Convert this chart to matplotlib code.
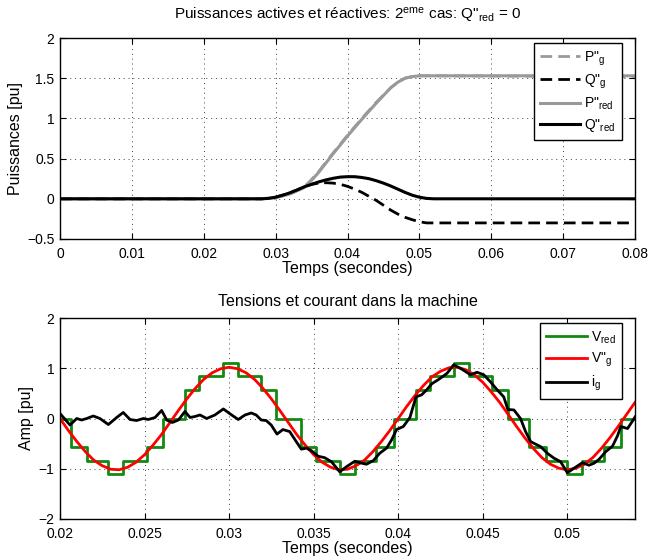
import numpy as np
import matplotlib
matplotlib.use("Agg")
import matplotlib.pyplot as plt

plt.rcParams['font.family'] = ['Liberation Sans', 'DejaVu Sans']
plt.rcParams['mathtext.default'] = 'regular'
plt.rcParams['axes.unicode_minus'] = True

# ---------------- Puissances actives et réactives ----------------
t_p = [0.000, 0.028, 0.030, 0.032, 0.034, 0.035, 0.036, 0.038, 0.040, 0.042,
       0.044, 0.046, 0.047, 0.048, 0.049, 0.050, 0.052, 0.080]
p_red = [0.00, 0.00, 0.015, 0.06, 0.14, 0.23, 0.33, 0.56, 0.78, 0.99,
         1.19, 1.38, 1.45, 1.50, 1.52, 1.53, 1.53, 1.53]
p_g = [0.00, 0.00, 0.015, 0.06, 0.15, 0.24, 0.34, 0.57, 0.79, 1.00,
       1.20, 1.38, 1.45, 1.50, 1.52, 1.53, 1.53, 1.52]

t_q = [0.000, 0.028, 0.029, 0.030, 0.031, 0.032, 0.033, 0.034, 0.035, 0.036,
       0.037, 0.038, 0.039, 0.040, 0.041, 0.042, 0.043, 0.044, 0.045, 0.046,
       0.047, 0.048, 0.049, 0.050, 0.051, 0.052, 0.080]
q_red = [0.00, 0.00, 0.005, 0.02, 0.045, 0.075, 0.11, 0.15, 0.18, 0.21,
         0.235, 0.255, 0.27, 0.275, 0.275, 0.265, 0.25, 0.225, 0.195, 0.16,
         0.12, 0.08, 0.045, 0.02, 0.005, 0.00, 0.00]
q_g = [0.00, 0.00, 0.005, 0.02, 0.045, 0.075, 0.11, 0.15, 0.18, 0.195,
       0.20, 0.195, 0.18, 0.155, 0.12, 0.08, 0.03, -0.02, -0.08, -0.14,
       -0.19, -0.23, -0.26, -0.285, -0.30, -0.30, -0.30]

top_xticks = [0, 0.01, 0.02, 0.03, 0.04, 0.05, 0.06, 0.07, 0.08]
top_xlabels = ['0', '0.01', '0.02', '0.03', '0.04', '0.05', '0.06', '0.07', '0.08']
top_yticks = [-0.5, 0, 0.5, 1, 1.5, 2]
top_ylabels = ['\u22120.5', '0', '0.5', '1', '1.5', '2']

# ---------------- Tensions et courant ----------------
t_v = np.linspace(0.02, 0.054, 69)  # sampling grid, 0.5 ms
v_g = [0.00, -0.24, -0.46, -0.66, -0.83, -0.94, -1.01, -1.02, -0.97, -0.87,
       -0.72, -0.53, -0.32, -0.08, 0.16, 0.39, 0.60, 0.78, 0.91, 0.99,
       1.02, 0.99, 0.91, 0.78, 0.60, 0.39, 0.16, -0.08, -0.32, -0.53,
       -0.72, -0.87, -0.97, -1.02, -1.01, -0.94, -0.83, -0.66, -0.46, -0.24,
       0.00, 0.24, 0.46, 0.66, 0.83, 0.94, 1.01, 1.02, 0.97, 0.87,
       0.72, 0.53, 0.32, 0.08, -0.16, -0.39, -0.60, -0.78, -0.91, -0.99,
       -1.02, -0.99, -0.91, -0.78, -0.60, -0.39, -0.16, 0.08, 0.32]

t_vred = [0.02000, 0.02065, 0.02158, 0.02286, 0.02374, 0.02512, 0.02611,
          0.02739, 0.02822, 0.02966, 0.03050, 0.03190, 0.03279,
          0.03427, 0.03512, 0.03654, 0.03743, 0.03871, 0.03974,
          0.04105, 0.04190, 0.04328, 0.04417, 0.04555, 0.04648,
          0.04773, 0.04871, 0.05000, 0.05089, 0.05217, 0.05316, 0.05400]
v_red = [0.00, -0.56, -0.85, -1.10, -0.85, -0.56, 0.00,
         0.56, 0.85, 1.10, 0.85, 0.56, 0.00,
         -0.56, -0.85, -1.10, -0.85, -0.56, 0.00,
         0.56, 0.85, 1.10, 0.85, 0.56, 0.00,
         -0.56, -0.85, -1.10, -0.85, -0.56, 0.00, 0.00]

t_i = [0.02000, 0.02059, 0.02099, 0.02128, 0.02158, 0.02197, 0.02236, 0.02286,
       0.02335, 0.02374, 0.02414, 0.02453, 0.02493, 0.02522, 0.02562, 0.02601,
       0.02631, 0.02664, 0.02700, 0.02739, 0.02769, 0.02798, 0.02828, 0.02867,
       0.02916, 0.02966, 0.03015, 0.03054, 0.03094, 0.03131, 0.03160, 0.03190,
       0.03219, 0.03249, 0.03283, 0.03318, 0.03358, 0.03397, 0.03427, 0.03457,
       0.03486, 0.03526, 0.03565, 0.03605, 0.03654, 0.03694, 0.03743, 0.03773,
       0.03812, 0.03852, 0.03891, 0.03931, 0.03960, 0.03990, 0.04030, 0.04069,
       0.04105, 0.04138, 0.04168, 0.04198, 0.04240, 0.04289, 0.04328, 0.04377,
       0.04427, 0.04466, 0.04506, 0.04545, 0.04585, 0.04624, 0.04648, 0.04684,
       0.04723, 0.04753, 0.04783, 0.04812, 0.04842, 0.04881, 0.04921, 0.04960,
       0.05000, 0.05039, 0.05089, 0.05128, 0.05158, 0.05188, 0.05227, 0.05267,
       0.05296, 0.05316, 0.05356, 0.05395, 0.05400]
i_g = [0.10, -0.13, 0.00, -0.03, 0.00, 0.05, 0.00, -0.12,
       0.02, 0.12, -0.02, -0.04, 0.00, -0.02, 0.02, 0.16,
       -0.03, -0.08, -0.03, 0.14, 0.02, 0.04, 0.07, 0.00,
       0.07, 0.19, 0.07, -0.02, 0.07, 0.11, 0.07, -0.03,
       -0.04, -0.13, -0.31, -0.22, -0.26, -0.46, -0.61, -0.59,
       -0.64, -0.75, -0.78, -0.86, -1.06, -0.96, -0.85, -0.88,
       -0.91, -0.84, -0.69, -0.59, -0.43, -0.22, -0.16, 0.02,
       0.43, 0.47, 0.57, 0.69, 0.78, 0.90, 1.07, 0.98,
       0.87, 0.92, 0.87, 0.73, 0.57, 0.43, 0.18, 0.17,
       0.00, -0.26, -0.46, -0.51, -0.56, -0.69, -0.79, -0.86,
       -1.08, -0.99, -0.88, -0.93, -0.89, -0.81, -0.66, -0.55,
       -0.35, -0.16, -0.20, 0.00, 0.03]

bot_xticks = [0.02, 0.025, 0.03, 0.035, 0.04, 0.045, 0.05]
bot_xlabels = ['0.02', '0.025', '0.03', '0.035', '0.04', '0.045', '0.05']
bot_yticks = [-2, -1, 0, 1, 2]
bot_ylabels = ['\u22122', '\u22121', '0', '1', '2']

GRAY = '#999999'
GREEN = '#128a12'


def style_axes(ax):
    ax.grid(True, linestyle=(0, (1, 4)), color='#444444', linewidth=0.7)
    ax.set_axisbelow(True)
    ax.tick_params(direction='in', top=True, right=True, length=4, width=0.8,
                   labelsize=10)
    ax.tick_params(axis='x', pad=5.5)
    ax.tick_params(axis='y', pad=4)
    for s in ax.spines.values():
        s.set_linewidth(1.0)


fig = plt.figure(figsize=(6.5, 5.59), dpi=100)
W, H = 650.0, 559.0
ax1 = fig.add_axes([60 / W, 1 - 239 / H, 575 / W, 201 / H])
ax2 = fig.add_axes([60 / W, 1 - 519 / H, 575 / W, 201 / H])

# top panel
ax1.plot(t_p, p_g, color=GRAY, lw=2, dashes=(4.2, 2.2), label='P"$_{g}$')
ax1.plot(t_q, q_g, color='black', lw=2, dashes=(4.2, 2.2), label='Q"$_{g}$')
ax1.plot(t_p, p_red, color=GRAY, lw=2.2, label='P"$_{red}$')
ax1.plot(t_q, q_red, color='black', lw=2.2, label='Q"$_{red}$')
ax1.set_xlim(0, 0.08)
ax1.set_ylim(-0.5, 2)
ax1.set_xticks(top_xticks)
ax1.set_xticklabels(top_xlabels)
ax1.set_yticks(top_yticks)
ax1.set_yticklabels(top_ylabels)
style_axes(ax1)
ax1.set_xlabel('Temps (secondes)', fontsize=11.5, labelpad=0)
ax1.set_ylabel('Puissances [pu]', fontsize=11.5, labelpad=3)
ax1.set_title('Puissances actives et réactives: 2$^{eme}$ cas: Q"$_{red}$ = 0',
              fontsize=11, pad=13)
leg1 = ax1.legend(loc='upper right', bbox_to_anchor=(0.977, 0.975),
                  fontsize=10, handlelength=2.9, handletextpad=0.3,
                  labelspacing=0.35, borderpad=0.45, borderaxespad=0,
                  fancybox=False, framealpha=1, edgecolor='black')
leg1.get_frame().set_linewidth(1.0)

# bottom panel
ax2.step(t_vred, v_red, where='post', color=GREEN, lw=2, label='V$_{red}$')
ax2.plot(t_v, v_g, color='red', lw=2, label='V"$_{g}$')
ax2.plot(t_i, i_g, color='black', lw=2, label='i$_{g}$')
ax2.set_xlim(0.02, 0.054)
ax2.set_ylim(-2, 2)
ax2.set_xticks(bot_xticks)
ax2.set_xticklabels(bot_xlabels)
ax2.set_yticks(bot_yticks)
ax2.set_yticklabels(bot_ylabels)
style_axes(ax2)
ax2.set_xlabel('Temps (secondes)', fontsize=11.5, labelpad=0)
ax2.set_ylabel('Amp [pu]', fontsize=11.5, labelpad=3)
ax2.set_title('Tensions et courant dans la machine', fontsize=11.5, pad=9)
leg2 = ax2.legend(loc='upper right', bbox_to_anchor=(0.977, 0.975),
                  fontsize=10, handlelength=2.9, handletextpad=0.3,
                  labelspacing=0.35, borderpad=0.45, borderaxespad=0,
                  fancybox=False, framealpha=1, edgecolor='black')
leg2.get_frame().set_linewidth(1.0)

fig.savefig('out.png', dpi=100)
